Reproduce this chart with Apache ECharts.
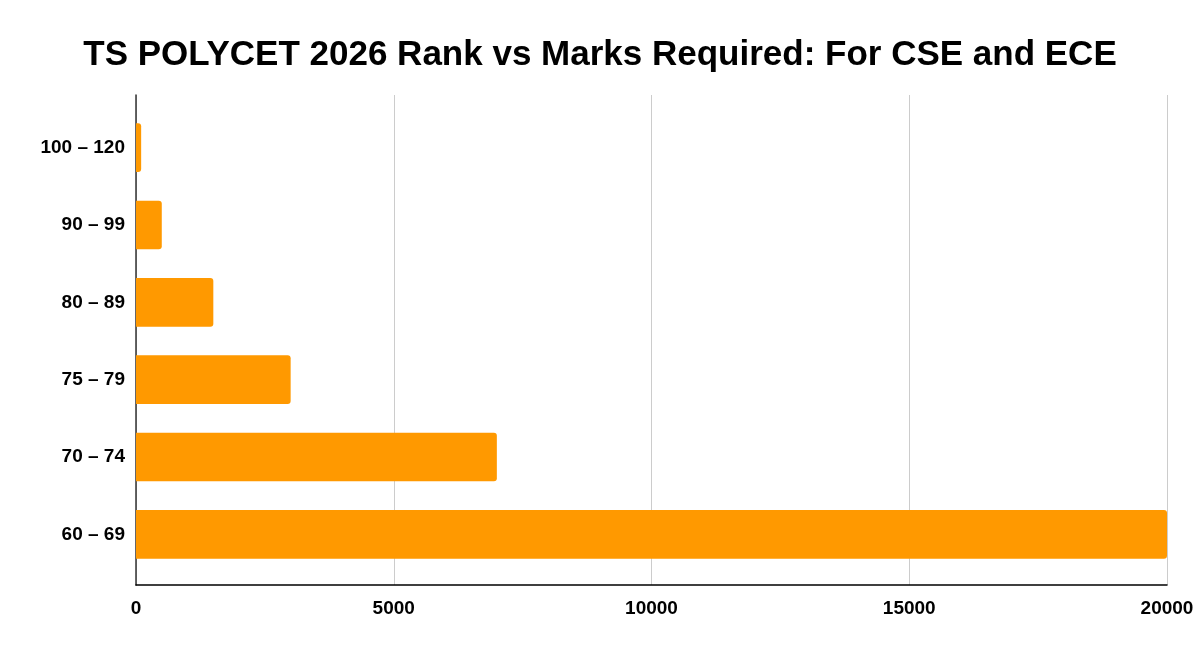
<!DOCTYPE html>
<html>
<head>
<meta charset="utf-8">
<script src="https://cdn.jsdelivr.net/npm/echarts@6/dist/echarts.min.js"></script>
<style>
html,body{margin:0;padding:0;background:#fff;}
#chart{width:1200px;height:654px;}
</style>
</head>
<body>
<div id="chart"></div>
<script>
const categories = ['60 – 69', '70 – 74', '75 – 79', '80 – 89', '90 – 99', '100 – 120'];
const ranks = [20000, 7000, 3000, 1500, 500, 100];
const xTicks = [0, 5000, 10000, 15000, 20000];

const FONT = 'Liberation Sans, Arial, sans-serif';
const chart = echarts.init(document.getElementById('chart'));
chart.setOption({
  animation: false,
  title: {
    text: 'TS POLYCET 2026 Rank vs Marks Required: For CSE and ECE',
    left: 'center',
    top: 33,
    textStyle: { fontFamily: FONT, fontSize: 35, fontWeight: 'bold', color: '#000' }
  },
  grid: [
    { left: 136, right: 33, top: 95, bottom: 69, containLabel: false },
    { left: 136, right: 33, top: 109, bottom: 81, containLabel: false }
  ],
  xAxis: [{
    type: 'value',
    gridIndex: 0,
    min: xTicks[0],
    max: xTicks[xTicks.length - 1],
    interval: 5000,
    axisLine: { show: true, lineStyle: { color: '#000', width: 1.5 } },
    axisTick: { show: false },
    splitLine: { show: true, lineStyle: { color: '#cccccc', width: 1 } },
    axisLabel: {
      margin: 14,
      formatter: v => String(v),
      fontFamily: FONT, fontSize: 19, fontWeight: 'bold', color: '#000'
    }
  }, {
    type: 'value',
    gridIndex: 1,
    min: xTicks[0],
    max: xTicks[xTicks.length - 1],
    interval: 5000,
    show: false
  }],
  yAxis: [{
    type: 'value',
    gridIndex: 0,
    axisLine: { show: true, lineStyle: { color: '#333', width: 1.5 } },
    axisTick: { show: false },
    axisLabel: { show: false },
    splitLine: { show: false }
  }, {
    type: 'category',
    gridIndex: 1,
    data: categories,
    axisLine: { show: false },
    axisTick: { show: false },
    axisLabel: {
      margin: 11,
      fontFamily: FONT, fontSize: 19, fontWeight: 'bold', color: '#000'
    }
  }],
  series: [{
    type: 'bar',
    xAxisIndex: 1,
    yAxisIndex: 1,
    data: ranks,
    barWidth: '63%',
    itemStyle: { color: '#FF9900', borderRadius: [0, 3, 3, 0] }
  }]
});
</script>
</body>
</html>
